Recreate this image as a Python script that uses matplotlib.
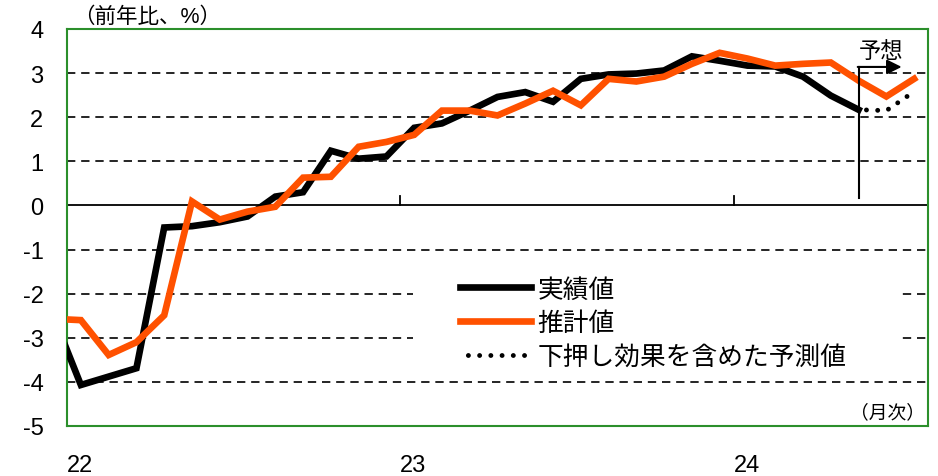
import numpy as np
import matplotlib
matplotlib.use("Agg")
import matplotlib.pyplot as plt
from matplotlib.patches import Rectangle

plt.rcParams["font.family"] = ["Liberation Sans", "Noto Sans CJK JP"]

# month index: -1 = 2021/12, 0 = 2022/01, ... 30 = 2024/07
actual = [-2.49, -4.07, -3.88, -3.69, -0.50, -0.47, -0.38, -0.25, 0.20, 0.30,
          1.24, 1.06, 1.11, 1.76, 1.86, 2.15, 2.46, 2.57, 2.35, 2.87,
          2.97, 2.99, 3.06, 3.38, 3.28, 3.17, 3.15, 2.92, 2.49, 2.17]
estimate = [-2.57, -2.60, -3.39, -3.10, -2.49, 0.09, -0.32, -0.14, -0.03, 0.63,
            0.65, 1.33, 1.44, 1.60, 2.15, 2.15, 2.04, 2.31, 2.60, 2.27,
            2.87, 2.81, 2.92, 3.21, 3.46, 3.33, 3.17, 3.21, 3.24, 2.83,
            2.47, 2.87]
forecast = [2.17, 2.15, 2.58]

year_labels = ["22", "23", "24"]
grid_values = [3, 2, 1, -1, -2, -3, -4]
yticks = [4, 3, 2, 1, 0, -1, -2, -3, -4, -5]

x_actual = np.arange(len(actual)) - 1
x_estimate = np.arange(len(estimate)) - 1
fc_start = x_actual[-1]
x_forecast = np.arange(len(forecast)) + fc_start

ORANGE = "#FF5100"
GREEN = "#2b8f2b"

fig = plt.figure(figsize=(9.38, 4.77), dpi=100)
ax = fig.add_axes([67 / 938, 1 - 427 / 477, (928 - 67) / 938, (427 - 30) / 477])

for g in grid_values:
    ax.axhline(g, color="black", lw=1.2, dashes=(5, 3.5), zorder=1)
ax.axhline(0, color="black", lw=1.3, zorder=1)

# year separators on the zero line
for k in range(1, len(year_labels)):
    ax.plot([12 * k - 0.5] * 2, [0, 0.22], color="black", lw=1.3, zorder=1)

# white legend background hiding the gridlines behind it
ax.add_patch(Rectangle((0.402, 0.139), 0.563, 0.277, transform=ax.transAxes,
                       facecolor="white", edgecolor="none", zorder=2))

ax.plot(x_actual, actual, color="black", lw=4.8, solid_joinstyle="miter",
        label="実績値", zorder=3)
ax.plot(x_estimate, estimate, color=ORANGE, lw=4.8, solid_joinstyle="miter",
        label="推計値", zorder=4)
ax.plot(x_forecast, forecast, color="black", lw=3.5, linestyle=(3, (0.01, 2.3)),
        dash_capstyle="round", label="下押し効果を含めた予測値", zorder=3)

# forecast marker
ax.plot([fc_start, fc_start], [0.16, 3.14], color="black", lw=1.5, zorder=5)
ax.annotate("", xy=(fc_start + 1.55, 3.14), xytext=(fc_start - 0.03, 3.14),
            arrowprops=dict(arrowstyle="-|>", color="black", lw=1.5,
                            mutation_scale=22, shrinkA=0, shrinkB=0), zorder=5)
ax.text(fc_start + 0.8, 3.5, "予想", fontsize=16, ha="center", va="center")

ax.set_xlim(-0.5, len(estimate) - 1.5)
ax.set_ylim(-5, 4)
ax.set_yticks(yticks)
ax.set_yticklabels([str(v) for v in yticks])
ax.set_xticks([12 * k - 0.5 for k in range(len(year_labels))])
ax.set_xticklabels(year_labels, ha="left")
ax.tick_params(axis="y", length=0, pad=17, labelsize=17)
ax.tick_params(axis="x", length=0, pad=20, labelsize=17)

for s in ax.spines.values():
    s.set_color(GREEN)
    s.set_linewidth(1.5)

leg = ax.legend(loc="upper left", bbox_to_anchor=(0.445, 0.40), fontsize=18.5,
                handlelength=2.75, handletextpad=0.24, labelspacing=0.38,
                frameon=False, borderpad=0.4, borderaxespad=0)
leg.set_zorder(6)

ax.text(0.007, 1.005, "（前年比、%）", transform=ax.transAxes, fontsize=15.5,
        ha="left", va="bottom")
ax.text(0.997, 0.013, "（月次）", transform=ax.transAxes, fontsize=13.5,
        ha="right", va="bottom")

fig.savefig("out.png", dpi=100)
